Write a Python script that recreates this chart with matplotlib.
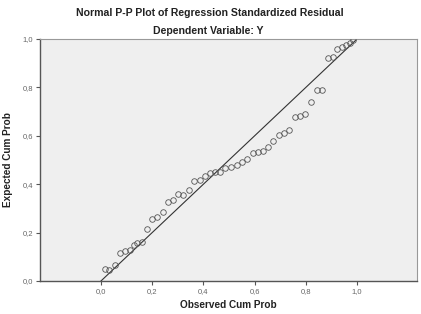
import matplotlib
matplotlib.use("Agg")
import matplotlib.pyplot as plt
from matplotlib.ticker import FuncFormatter

# observed vs expected cumulative probabilities
observed = [0.015, 0.031, 0.054, 0.074, 0.094, 0.113, 0.130, 0.140, 0.159, 0.178,
            0.198, 0.217, 0.241, 0.260, 0.283, 0.302, 0.322, 0.344, 0.364, 0.386,
            0.406, 0.426, 0.445, 0.465, 0.484, 0.508, 0.530, 0.552, 0.572, 0.593,
            0.612, 0.632, 0.654, 0.673, 0.695, 0.716, 0.736, 0.758, 0.777, 0.797,
            0.819, 0.842, 0.862, 0.888, 0.907, 0.923, 0.940, 0.957, 0.973, 0.986]
expected = [0.048, 0.045, 0.066, 0.114, 0.125, 0.127, 0.149, 0.156, 0.162, 0.214,
            0.256, 0.263, 0.287, 0.327, 0.335, 0.360, 0.356, 0.376, 0.412, 0.416,
            0.434, 0.445, 0.452, 0.449, 0.466, 0.472, 0.479, 0.493, 0.503, 0.530,
            0.532, 0.539, 0.555, 0.580, 0.603, 0.613, 0.622, 0.676, 0.682, 0.690,
            0.741, 0.789, 0.789, 0.920, 0.924, 0.957, 0.966, 0.974, 0.982, 0.996]
ticks = [0.0, 0.2, 0.4, 0.6, 0.8, 1.0]

plt.rcParams['font.family'] = ['Liberation Sans', 'DejaVu Sans']

W, H = 421, 314
fig = plt.figure(figsize=(W / 100, H / 100), dpi=100)
ax = fig.add_axes([40 / W, 1 - 281 / H, (417 - 40) / W, (281 - 39) / H])
ax.set_facecolor('#efefef')

ax.plot([0, 1], [0, 1], color='#333333', lw=0.8, zorder=2)
ax.plot(observed, expected, 'o', ms=4.0, mfc='none', mec='#555555', mew=0.6, zorder=3)

ax.set_xlim(-0.238, 1.234)
ax.set_ylim(0, 1.0)
ax.set_xticks(ticks)
ax.set_yticks(ticks)
fmt = FuncFormatter(lambda v, p: ('%.1f' % v).replace('.', ','))
ax.xaxis.set_major_formatter(fmt)
ax.yaxis.set_major_formatter(fmt)
ax.tick_params(direction='out', length=3, width=0.8, color='#555555',
               labelsize=5.5, labelcolor='#666666', pad=2)

for s in ['left', 'bottom']:
    ax.spines[s].set_color('#555555')
    ax.spines[s].set_linewidth(1.0)
for s in ['top', 'right']:
    ax.spines[s].set_color('#999999')
    ax.spines[s].set_linewidth(0.8)

ax.set_xlabel('Observed Cum Prob', fontsize=7.2, fontweight='bold', color='#222222', labelpad=4)
ax.set_ylabel('Expected Cum Prob', fontsize=7.2, fontweight='bold', color='#222222', labelpad=7)

fig.text(210 / W, 1 - 13 / H, 'Normal P-P Plot of Regression Standardized Residual',
         ha='center', va='center', fontsize=7.6, fontweight='bold', color='#222222')
fig.text(208 / W, 1 - 31 / H, 'Dependent Variable: Y',
         ha='center', va='center', fontsize=7.6, fontweight='bold', color='#222222')

fig.savefig('out.png', dpi=100, facecolor='white')
